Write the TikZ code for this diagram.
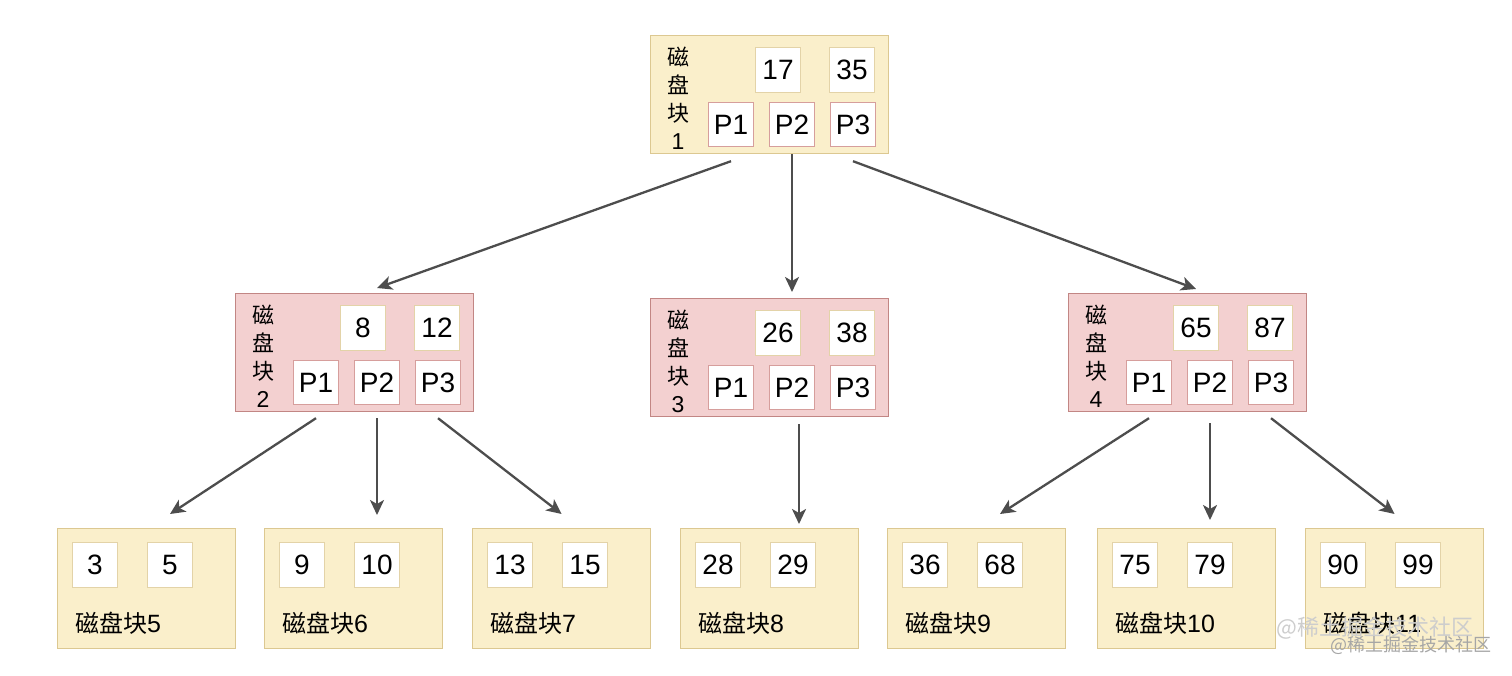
\documentclass[tikz,border=0pt]{standalone}
\usepackage{fontspec}
\setmainfont{Liberation Sans}
\newfontfamily\cjk{Noto Sans CJK SC}
\usetikzlibrary{arrows.meta,positioning,calc}
\definecolor{ylwfill}{HTML}{FAEFCB}
\definecolor{ylwline}{HTML}{DCC891}
\definecolor{redfill}{HTML}{F3D0D0}
\definecolor{redline}{HTML}{C28684}
\definecolor{keyline}{HTML}{E3D3A8}
\definecolor{ptrline}{HTML}{D69E9C}
\definecolor{arrgray}{HTML}{4D4D4D}
\definecolor{wmlight}{HTML}{CDCDCD}
\definecolor{wmdark}{HTML}{A6A6A6}

\begin{document}
\begin{tikzpicture}[x=1pt, y=-1pt, >={Stealth[length=15pt,width=14pt,inset=4pt]}]
\tikzstyle{blk}=[draw, line width=1.2pt, minimum width=238pt, minimum height=118pt, anchor=north west, inner sep=0pt]
\tikzstyle{leaf}=[blk, draw=ylwline, fill=ylwfill, minimum width=178pt, minimum height=120pt]
\tikzstyle{key}=[draw=keyline, fill=white, line width=1pt, minimum width=45pt, minimum height=45pt, inner sep=0pt, font=\fontsize{28}{32}\selectfont]
\tikzstyle{ptr}=[key, draw=ptrline, minimum height=44pt]
\tikzstyle{vlab}=[align=center, inner sep=0pt, font=\cjk\fontsize{22}{28}\selectfont]
\tikzstyle{llab}=[anchor=west, inner sep=0pt, font=\cjk\fontsize{24}{26}\selectfont]
\tikzstyle{arr}=[->, draw=arrgray, line width=2.3pt]

\useasboundingbox (0,0) rectangle (1512,676);

% index blocks: name/fill/border/x/y/keys/number
\foreach \nm/\fc/\dc/\bx/\by/\ka/\kb/\num in {b1/ylwfill/ylwline/650/35/17/35/1, b2/redfill/redline/235/293/8/12/2, b3/redfill/redline/650/298/26/38/3, b4/redfill/redline/1068/293/65/87/4}{
  \node[blk, fill=\fc, draw=\dc] (\nm) at (\bx,\by) {};
  \node[vlab] at ($(\nm.north west)+(28,63)$) {磁\\盘\\块\\{\rmfamily\fontsize{23}{28}\selectfont\num}};
  \node[key, below right=12pt and 105pt of \nm.north west] (\nm-k1) {\ka};
  \node[key, right=28pt of \nm-k1] (\nm-k2) {\kb};
  \node[ptr, below right=67pt and 58pt of \nm.north west] (\nm-p1) {P1};
  \node[ptr, right=15pt of \nm-p1] (\nm-p2) {P2};
  \node[ptr, right=15pt of \nm-p2] (\nm-p3) {P3};
}

% leaf blocks
\foreach \nm/\bx/\ka/\kb/\num in {l5/57/3/5/5, l6/264/9/10/6, l7/472/13/15/7, l8/680/28/29/8, l9/887/36/68/9, l10/1097/75/79/10, l11/1305/90/99/11}{
  \node[leaf] (\nm) at (\bx,528) {};
  \node[key, below right=14pt and 15pt of \nm.north west] (\nm-k1) {\ka};
  \node[key, right=29pt of \nm-k1] (\nm-k2) {\kb};
  \node[llab] at ($(\nm.north west)+(18,95)$) {磁盘块{\rmfamily\fontsize{25}{26}\selectfont\num}};
}

\draw[arr] ([yshift=-7pt]b1-p1 |- b1.south) -- ([yshift=5pt]b2-p2 |- b2.north);
\draw[arr] (b1-p2 |- b1.south) -- ([yshift=6pt]b3-p2 |- b3.north);
\draw[arr] ([yshift=-7pt]b1-p3 |- b1.south) -- ([yshift=4pt]b4-k1 |- b4.north);
\draw[arr] ([yshift=-6pt]b2-p1 |- b2.south) -- ([yshift=14pt]l5-k2 |- l5.north);
\draw[arr] ([yshift=-6pt]b2-p2 |- b2.south) -- ([yshift=13pt]l6-k2 |- l6.north);
\draw[arr] ([yshift=-6pt]b2-p3 |- b2.south) -- ([yshift=14pt]l7.north);
\draw[arr] ([xshift=7pt,yshift=-7pt]b3-p2 |- b3.south) -- ([xshift=7pt,yshift=4pt]b3-p2 |- l8.north);
\draw[arr] ([yshift=-6pt]b4-p1 |- b4.south) -- ([yshift=14pt]l9-k2 |- l9.north);
\draw[arr] ([yshift=-11pt]b4-p2 |- b4.south) -- ([yshift=8pt]b4-p2 |- l10.north);
\draw[arr] ([yshift=-6pt]b4-p3 |- b4.south) -- ([yshift=14pt]l11.north);

\node[font=\cjk\fontsize{22}{24}\selectfont, text=wmlight] (wm1) at (1375,628) {@稀土掘金技术社区};
\node[font=\cjk\fontsize{18}{20}\selectfont, text=wmdark] (wm2) at (1411,645) {@稀土掘金技术社区};
\end{tikzpicture}
\end{document}
